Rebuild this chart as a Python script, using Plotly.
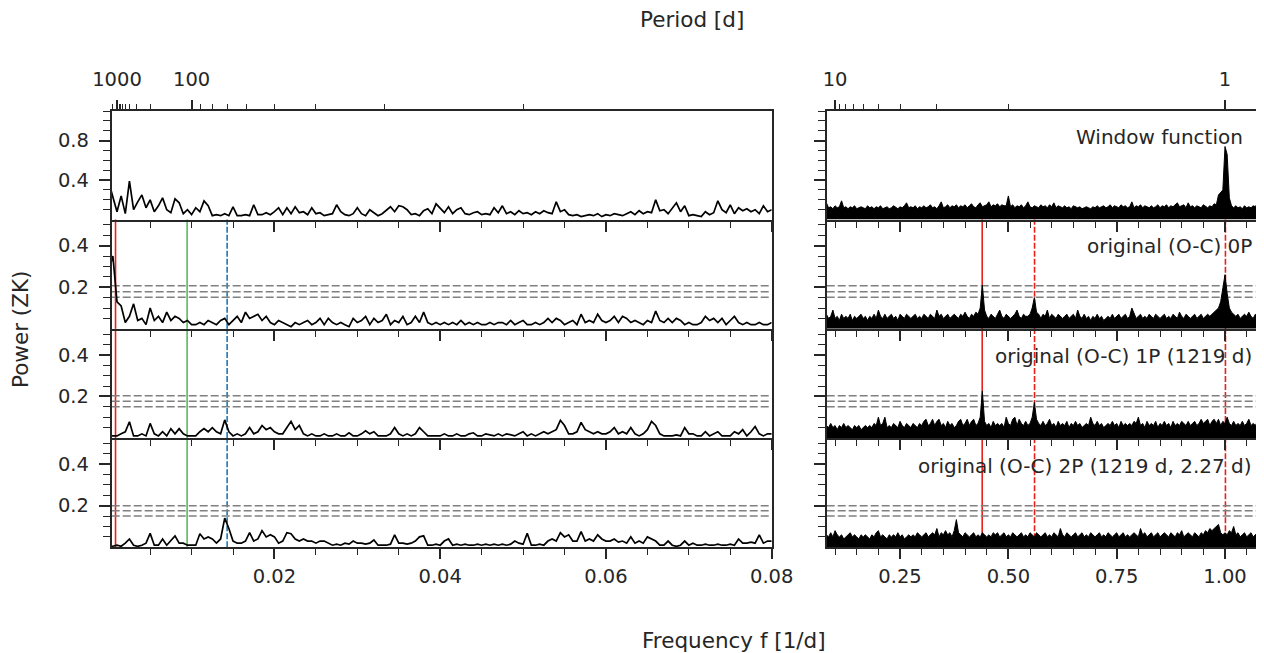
import plotly.graph_objects as go

# ---------------- data ----------------
# left panels: frequency grid 0 .. 0.08 1/d in steps of 0.0005
wf_left = [0.38,0.22,0.08,0.24,0.06,0.39,0.10,0.18,0.25,0.12,
           0.20,0.08,0.14,0.22,0.10,0.07,0.21,0.17,0.06,0.10,
           0.05,0.12,0.08,0.19,0.14,0.04,0.05,0.04,0.06,0.04,
           0.13,0.04,0.04,0.05,0.04,0.15,0.05,0.05,0.07,0.05,
           0.08,0.12,0.05,0.12,0.06,0.13,0.07,0.08,0.05,0.12,
           0.06,0.07,0.04,0.05,0.06,0.15,0.08,0.05,0.04,0.06,
           0.12,0.06,0.04,0.10,0.07,0.04,0.06,0.10,0.13,0.08,
           0.14,0.13,0.10,0.05,0.06,0.04,0.09,0.11,0.06,0.16,
           0.12,0.07,0.13,0.06,0.10,0.12,0.06,0.05,0.07,0.08,
           0.05,0.06,0.05,0.12,0.07,0.14,0.06,0.08,0.05,0.09,
           0.06,0.07,0.05,0.08,0.06,0.09,0.07,0.06,0.18,0.08,
           0.10,0.05,0.04,0.05,0.03,0.04,0.05,0.04,0.06,0.03,
           0.05,0.04,0.06,0.05,0.04,0.06,0.08,0.05,0.09,0.06,
           0.08,0.07,0.20,0.09,0.10,0.06,0.12,0.17,0.08,0.14,
           0.04,0.05,0.04,0.03,0.08,0.05,0.07,0.19,0.10,0.07,
           0.15,0.06,0.12,0.09,0.11,0.08,0.10,0.06,0.14,0.08,
           0.10]
oc0_left = [0.28,0.35,0.13,0.11,0.03,0.06,0.12,0.04,0.05,0.02,
            0.10,0.04,0.06,0.03,0.08,0.04,0.06,0.05,0.03,0.04,
            0.02,0.02,0.03,0.02,0.04,0.03,0.02,0.04,0.05,0.02,
            0.04,0.06,0.03,0.08,0.05,0.06,0.07,0.04,0.06,0.03,
            0.02,0.04,0.03,0.02,0.01,0.03,0.02,0.03,0.04,0.02,
            0.03,0.05,0.02,0.05,0.03,0.02,0.03,0.02,0.01,0.05,
            0.03,0.04,0.06,0.02,0.05,0.03,0.04,0.07,0.02,0.04,
            0.03,0.06,0.02,0.03,0.06,0.03,0.08,0.03,0.02,0.03,
            0.02,0.03,0.02,0.03,0.02,0.04,0.02,0.03,0.02,0.03,
            0.02,0.02,0.03,0.02,0.03,0.03,0.02,0.04,0.02,0.03,
            0.04,0.02,0.02,0.03,0.02,0.03,0.05,0.03,0.05,0.04,
            0.02,0.03,0.04,0.02,0.07,0.03,0.04,0.03,0.07,0.04,
            0.03,0.04,0.06,0.03,0.06,0.05,0.03,0.04,0.03,0.02,
            0.04,0.03,0.085,0.04,0.03,0.05,0.03,0.05,0.04,0.02,
            0.03,0.02,0.02,0.03,0.06,0.04,0.05,0.03,0.05,0.02,
            0.04,0.06,0.03,0.02,0.03,0.02,0.02,0.03,0.02,0.02,
            0.03]
oc1_left = [0.01,0.01,0.01,0.02,0.03,0.078,0.01,0.01,0.02,0.01,
            0.07,0.02,0.01,0.03,0.01,0.045,0.02,0.045,0.02,0.01,
            0.01,0.01,0.03,0.045,0.03,0.05,0.03,0.02,0.087,0.03,
            0.01,0.02,0.01,0.02,0.05,0.02,0.03,0.06,0.04,0.05,
            0.03,0.02,0.02,0.05,0.08,0.04,0.06,0.02,0.01,0.02,
            0.01,0.01,0.02,0.01,0.01,0.02,0.01,0.01,0.025,0.01,
            0.01,0.02,0.035,0.02,0.03,0.01,0.01,0.01,0.02,0.05,
            0.02,0.01,0.02,0.01,0.02,0.05,0.03,0.01,0.01,0.01,
            0.01,0.02,0.01,0.01,0.02,0.01,0.01,0.02,0.025,0.01,
            0.01,0.02,0.015,0.01,0.02,0.01,0.02,0.015,0.01,0.02,
            0.03,0.01,0.02,0.01,0.02,0.03,0.02,0.03,0.04,0.085,
            0.06,0.02,0.02,0.03,0.075,0.04,0.03,0.02,0.03,0.02,
            0.02,0.03,0.05,0.02,0.03,0.02,0.05,0.02,0.01,0.02,
            0.04,0.08,0.06,0.02,0.01,0.01,0.01,0.015,0.01,0.05,
            0.02,0.02,0.01,0.01,0.03,0.01,0.02,0.03,0.01,0.01,
            0.01,0.03,0.02,0.04,0.01,0.03,0.055,0.02,0.01,0.02,
            0.02]
oc2_left = [0.005,0.005,0.01,0.005,0.02,0.04,0.01,0.005,0.01,0.02,
            0.067,0.01,0.01,0.04,0.01,0.03,0.055,0.02,0.02,0.01,
            0.01,0.01,0.065,0.04,0.05,0.04,0.02,0.04,0.14,0.09,
            0.03,0.02,0.02,0.03,0.07,0.03,0.04,0.08,0.05,0.06,
            0.05,0.02,0.03,0.07,0.065,0.04,0.03,0.04,0.03,0.03,
            0.02,0.03,0.03,0.02,0.01,0.015,0.01,0.02,0.015,0.03,
            0.02,0.02,0.015,0.02,0.035,0.01,0.01,0.01,0.015,0.06,
            0.02,0.02,0.015,0.02,0.03,0.05,0.055,0.01,0.01,0.015,
            0.01,0.03,0.04,0.01,0.015,0.01,0.015,0.01,0.01,0.015,
            0.01,0.015,0.01,0.015,0.01,0.015,0.01,0.015,0.03,0.02,
            0.015,0.067,0.01,0.01,0.015,0.01,0.03,0.04,0.03,0.07,
            0.05,0.06,0.03,0.03,0.075,0.03,0.04,0.03,0.06,0.04,
            0.03,0.03,0.04,0.025,0.03,0.02,0.05,0.02,0.03,0.02,
            0.05,0.04,0.03,0.01,0.01,0.03,0.01,0.005,0.01,0.03,
            0.01,0.02,0.01,0.01,0.015,0.01,0.01,0.015,0.01,0.01,
            0.015,0.01,0.04,0.02,0.02,0.025,0.02,0.06,0.02,0.03,
            0.03]

# right panels: frequency grid 0.08 .. 1.09 1/d in steps of 0.005 (upper envelope)
wf_right = [.17,.12,.13,.11,.14,.12,.13,.19,.12,.13,
            .11,.13,.12,.14,.11,.12,.13,.12,.11,.14,
            .12,.13,.11,.13,.12,.14,.11,.12,.13,.11,
            .12,.14,.12,.11,.13,.12,.14,.17,.12,.13,
            .12,.14,.11,.13,.12,.14,.12,.13,.15,.12,
            .13,.11,.14,.18,.12,.13,.15,.12,.14,.13,
            .15,.12,.14,.13,.15,.12,.14,.16,.13,.12,
            .15,.17,.13,.14,.15,.18,.13,.15,.14,.16,
            .13,.15,.14,.14,.24,.13,.15,.12,.14,.13,
            .15,.12,.14,.18,.13,.12,.14,.13,.12,.15,
            .13,.14,.12,.15,.13,.17,.12,.14,.13,.12,
            .14,.12,.13,.11,.14,.13,.12,.13,.11,.12,
            .13,.12,.11,.13,.12,.14,.12,.13,.14,.12,
            .13,.15,.12,.14,.13,.12,.15,.13,.14,.12,
            .13,.18,.12,.14,.13,.15,.12,.14,.13,.12,
            .14,.12,.13,.15,.12,.14,.13,.15,.12,.14,
            .13,.15,.17,.13,.14,.15,.12,.17,.13,.14,
            .12,.14,.13,.12,.15,.13,.12,.14,.13,.16,
            .15,.25,.28,.30,.74,.66,.22,.14,.12,.14,
            .12,.13,.11,.14,.12,.13,.12,.14,.13,.17,
            .13,.14,.12]
oc0_right = [.07,.05,.06,.09,.05,.06,.04,.07,.05,.06,
             .05,.07,.04,.06,.05,.06,.07,.05,.06,.04,
             .06,.05,.07,.05,.09,.06,.05,.07,.05,.06,
             .07,.05,.06,.04,.07,.06,.05,.07,.06,.05,
             .06,.07,.05,.06,.05,.07,.06,.05,.07,.06,
             .05,.09,.06,.07,.05,.06,.07,.05,.06,.07,
             .06,.05,.07,.06,.08,.06,.05,.07,.06,.08,
             .07,.10,.21,.09,.06,.05,.07,.06,.05,.07,
             .09,.06,.05,.07,.06,.05,.06,.07,.09,.06,
             .05,.07,.06,.06,.07,.10,.15,.08,.07,.05,
             .07,.06,.09,.05,.07,.06,.05,.07,.06,.05,
             .06,.07,.05,.06,.07,.05,.09,.06,.05,.07,
             .05,.06,.04,.06,.05,.07,.05,.06,.04,.05,
             .06,.05,.07,.05,.06,.07,.05,.06,.07,.05,
             .06,.10,.07,.05,.06,.07,.05,.06,.05,.07,
             .06,.05,.07,.06,.05,.06,.07,.05,.06,.05,
             .07,.06,.05,.08,.06,.05,.07,.06,.05,.06,
             .07,.05,.06,.07,.05,.06,.07,.06,.07,.08,
             .09,.10,.13,.20,.26,.17,.10,.08,.07,.06,
             .07,.05,.06,.07,.06,.08,.06,.05,.07,.06,
             .05,.07,.06]
oc1_right = [.06,.05,.07,.05,.06,.04,.06,.05,.07,.05,
             .06,.05,.04,.06,.05,.06,.04,.05,.06,.05,
             .06,.05,.07,.06,.10,.06,.07,.10,.05,.06,
             .05,.07,.06,.05,.08,.06,.05,.07,.06,.05,
             .07,.06,.05,.07,.06,.08,.09,.06,.07,.09,
             .06,.08,.09,.06,.07,.05,.08,.06,.07,.05,
             .06,.08,.09,.06,.07,.09,.06,.08,.09,.06,
             .07,.10,.225,.08,.06,.07,.05,.08,.06,.07,
             .06,.07,.05,.10,.07,.06,.09,.10,.06,.09,
             .07,.06,.08,.06,.07,.10,.17,.09,.07,.06,
             .08,.06,.07,.09,.06,.07,.05,.08,.06,.07,
             .06,.08,.05,.07,.06,.08,.06,.07,.05,.06,
             .07,.06,.10,.07,.06,.08,.06,.07,.05,.06,
             .07,.06,.08,.06,.07,.05,.08,.06,.07,.06,
             .07,.06,.08,.07,.10,.06,.07,.05,.08,.06,
             .07,.06,.08,.05,.07,.06,.08,.06,.07,.05,
             .08,.06,.07,.06,.08,.07,.06,.08,.06,.07,
             .08,.06,.07,.09,.07,.08,.09,.06,.08,.09,
             .07,.09,.06,.08,.07,.10,.07,.06,.08,.06,
             .07,.06,.08,.06,.07,.09,.06,.07,.06,.08,
             .06,.07,.06]
oc2_right = [.06,.05,.07,.05,.08,.06,.05,.06,.04,.05,
             .06,.07,.05,.06,.05,.04,.06,.05,.06,.05,
             .04,.06,.05,.07,.08,.05,.06,.05,.04,.06,
             .05,.06,.05,.07,.05,.06,.04,.05,.06,.05,
             .06,.05,.07,.06,.05,.06,.07,.05,.06,.07,
             .06,.09,.05,.07,.06,.08,.06,.07,.05,.08,
             .133,.07,.06,.05,.07,.06,.05,.06,.07,.05,
             .06,.05,.07,.06,.05,.06,.05,.07,.06,.07,
             .05,.06,.07,.05,.06,.05,.07,.06,.05,.06,
             .07,.05,.06,.05,.07,.06,.05,.07,.06,.05,
             .06,.07,.05,.06,.05,.07,.06,.05,.09,.06,
             .05,.07,.06,.05,.06,.07,.05,.06,.07,.05,
             .06,.05,.07,.06,.05,.06,.07,.05,.06,.05,
             .07,.06,.05,.06,.07,.05,.06,.07,.05,.06,
             .05,.06,.07,.06,.05,.09,.06,.07,.05,.06,
             .07,.05,.06,.07,.05,.06,.07,.06,.05,.07,
             .06,.05,.07,.06,.08,.05,.06,.07,.06,.05,
             .07,.06,.05,.07,.06,.08,.07,.09,.08,.09,
             .10,.11,.07,.06,.07,.06,.08,.07,.10,.06,
             .07,.05,.06,.07,.05,.06,.07,.05,.06,.07,
             .05,.06,.07]

row_labels = ["Window function", "original (O-C) 0P",
              "original (O-C) 1P (1219 d)", "original (O-C) 2P (1219 d, 2.27 d)"]
fap_levels = [[], [0.207, 0.178, 0.152], [0.203, 0.177, 0.150], [0.200, 0.175, 0.150]]
left_marks = [(1 / 1219, "#e8201c", "solid"), (0.00946, "#5cb85c", "solid"), (0.01429, "#1f77b4", "6px,2px")]
right_marks = [(0.4396, "#e8201c", "solid"), (0.5604, "#e8201c", "6px,2px"), (1.001, "#e8201c", "6px,2px")]
period_major_left = [1000, 100]
period_minor_left = [2000, 900, 800, 700, 600, 500, 400, 300, 200, 90, 80, 70, 60, 50, 40, 30, 20]
period_major_right = [10, 1]
period_minor_right = [9, 8, 7, 6, 5, 4, 3, 2]

# ---------------- layout geometry (screen pixels; page body has an 8 px margin) ----------------
OFF = 8
W, H = 1264 - OFF, 653 - OFF
left_px = (111.7, 771.7)
right_px = (826.7, 1264.0)
rows_px = [(111.0, 219.6), (219.6, 328.8), (328.8, 438.0), (438.0, 547.3)]
xr_left = [0.00036, 0.0800]
xr_right = [0.0807, 1.0900]
yr = [[0, 1.1], [0, 0.525], [0, 0.525], [0, 0.525]]

SPINE = "#262626"
TXT = "#262626"
FONT = "DejaVu Sans"
tickfont = dict(family=FONT, size=19.5, color=TXT)

freq_left = [round(i * 0.0005, 6) for i in range(len(wf_left))]
freq_right = [round(0.08 + i * 0.005, 6) for i in range(len(wf_right))]
left_data = [wf_left, oc0_left, oc1_left, oc2_left]
right_data = [wf_right, oc0_right, oc1_right, oc2_right]


def sx(p):
    return min(1.0, (p - OFF) / W)


def sy(p):
    return 1 - (p - OFF) / H


def nm(i):
    return "" if i == 1 else str(i)


fig = go.Figure()
layout = {}

left_major = [0.02, 0.04, 0.06, 0.08]
left_minor = [round(0.005 * k, 4) for k in range(1, 17) if k % 4 != 0]
right_major = [0.25, 0.5, 0.75, 1.0]
right_minor = [round(0.05 * k, 4) for k in range(2, 22) if k % 5 != 0]

for r in range(4):
    li, ri = 2 * r + 1, 2 * r + 2
    ydom = [sy(rows_px[r][1]), sy(rows_px[r][0])]
    if r == 0:
        ymaj, ymin = [0.4, 0.8], [0.1, 0.2, 0.3, 0.5, 0.6, 0.7, 0.9, 1.0, 1.1]
    else:
        ymaj, ymin = [0.2, 0.4], [0.05, 0.1, 0.15, 0.25, 0.3, 0.35, 0.45, 0.5]
    for idx, dom, rng, maj, mino, side_left in [
        (li, left_px, xr_left, left_major, left_minor, True),
        (ri, right_px, xr_right, right_major, right_minor, False),
    ]:
        layout["xaxis" + nm(idx)] = dict(
            domain=[sx(dom[0]), sx(dom[1])], range=rng, anchor="y" + nm(idx),
            automargin=False,
            showline=True, linecolor=SPINE, linewidth=1.8, mirror=(r == 0),
            ticks="outside", ticklen=10, tickwidth=1.6, tickcolor=SPINE,
            tickmode="array", tickvals=maj,
            ticktext=[("%.2f" % v) for v in maj],
            showticklabels=(r == 3), tickfont=tickfont,
            minor=dict(tickmode="array", tickvals=mino, ticks="outside",
                       ticklen=6, tickwidth=1.4, tickcolor=SPINE),
            showgrid=False, zeroline=False,
        )
        layout["yaxis" + nm(idx)] = dict(
            domain=ydom, range=yr[r], anchor="x" + nm(idx),
            automargin=False,
            showline=True, linecolor=SPINE, linewidth=1.8, mirror=side_left,
            ticks="outside", ticklen=11, tickwidth=1.6, tickcolor=SPINE,
            tickmode="array", tickvals=ymaj, ticktext=["%.1f" % v for v in ymaj],
            showticklabels=side_left, tickfont=tickfont, ticklabelstandoff=6,
            minor=dict(tickmode="array", tickvals=ymin, ticks="outside",
                       ticklen=7, tickwidth=1.4, tickcolor=SPINE),
            showgrid=False, zeroline=False,
        )
    # data traces
    fig.add_trace(go.Scatter(x=freq_left, y=left_data[r], mode="lines",
                             line=dict(color="black", width=1.7),
                             xaxis="x" + nm(li), yaxis="y" + nm(li),
                             showlegend=False, hoverinfo="skip"))
    fig.add_trace(go.Scatter(x=freq_right, y=right_data[r], mode="lines",
                             line=dict(color="black", width=1.0),
                             fill="tozeroy", fillcolor="black",
                             xaxis="x" + nm(ri), yaxis="y" + nm(ri),
                             showlegend=False, hoverinfo="skip"))

# top period axes
for idx, base, dom, rng, pmaj, pmin in [
    (9, 1, left_px, xr_left, period_major_left, period_minor_left),
    (10, 2, right_px, xr_right, period_major_right, period_minor_right),
]:
    layout["xaxis" + nm(idx)] = dict(
        domain=[sx(dom[0]), sx(dom[1])], range=rng, overlaying="x" + nm(base),
        anchor="y" + nm(base), side="top", showline=False, automargin=False,
        ticks="outside", ticklen=10, tickwidth=1.6, tickcolor=SPINE,
        tickmode="array", tickvals=[1.0 / p for p in pmaj],
        ticktext=[str(p) for p in pmaj], tickfont=tickfont, ticklabelstandoff=6,
        minor=dict(tickmode="array", tickvals=[1.0 / p for p in pmin],
                   ticks="outside", ticklen=6, tickwidth=1.4, tickcolor=SPINE),
        showgrid=False, zeroline=False,
    )
    fig.add_trace(go.Scatter(x=[None], y=[None], xaxis="x" + nm(idx), yaxis="y" + nm(base),
                             showlegend=False, hoverinfo="skip"))

shapes = []
for r in range(1, 4):
    li, ri = 2 * r + 1, 2 * r + 2
    for idx, marks in [(li, left_marks), (ri, right_marks)]:
        for f, col, dash in marks:
            shapes.append(dict(type="line", xref="x" + nm(idx), yref="y" + nm(idx) + " domain",
                               x0=f, x1=f, y0=0, y1=1, layer="below",
                               line=dict(color=col, width=1.6, dash=dash)))
        for lv in fap_levels[r]:
            shapes.append(dict(type="line", xref="x" + nm(idx) + " domain", yref="y" + nm(idx),
                               x0=0, x1=1, y0=lv, y1=lv, layer="below",
                               line=dict(color="#808080", width=1.5, dash="8px,3px")))

# the rightmost ~8 px of the page are not visible, so keep labels inside 1254 px
label_right_px = [1245, 1254, 1254, 1254]
label_y_px = [137, 246.5, 355.7, 465.5]
annotations = []
for r in range(4):
    annotations.append(dict(text=row_labels[r], xref="paper", yref="paper",
                            x=sx(label_right_px[r]), y=sy(label_y_px[r]),
                            xanchor="right", yanchor="middle", showarrow=False,
                            font=dict(family=FONT, size=20, color=TXT)))
annotations.append(dict(text="Period [d]", xref="paper", yref="paper", x=sx(692), y=sy(20),
                        xanchor="center", yanchor="middle", showarrow=False,
                        font=dict(family=FONT, size=21.5, color=TXT)))
annotations.append(dict(text="Frequency f [1/d]", xref="paper", yref="paper", x=sx(734), y=sy(640),
                        xanchor="center", yanchor="middle", showarrow=False,
                        font=dict(family=FONT, size=21.5, color=TXT)))
annotations.append(dict(text="Power (ZK)", xref="paper", yref="paper", x=sx(20), y=sy(330),
                        xanchor="center", yanchor="middle", textangle=-90, showarrow=False,
                        font=dict(family=FONT, size=21.5, color=TXT)))

fig.update_layout(**layout)
fig.update_layout(template="none", width=W, height=H, autosize=False,
                  margin=dict(l=0, r=0, t=0, b=0, pad=0, autoexpand=False),
                  paper_bgcolor="white", plot_bgcolor="rgba(0,0,0,0)",
                  showlegend=False, shapes=shapes, annotations=annotations,
                  font=dict(family=FONT, color=TXT))

fig.write_html("out.html")
